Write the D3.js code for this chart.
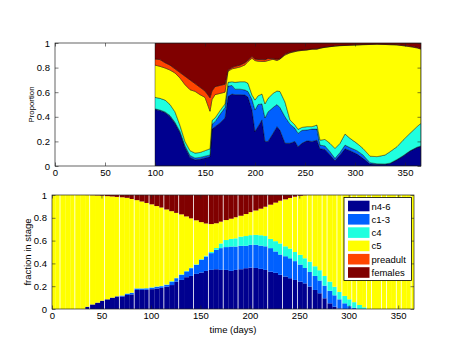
<!DOCTYPE html>
<html><head><meta charset="utf-8">
<script src="https://cdn.jsdelivr.net/npm/d3@7"></script>
<style>
body{margin:0;background:#fff;}
text{font-family:"Liberation Sans",Arial,Helvetica,sans-serif;}
</style>
</head><body>
<svg id="c" width="475" height="356"></svg>
<script>
const stages = ["n4-6","c1-3","c4","c5","preadult","females"];
const colors = ["#00008f","#0060ff","#20ffdf","#ffff00","#ff4500","#800000"];
const xTicks = [0,50,100,150,200,250,300,350];
const xTickLabels = ["0","50","100","150","200","250","300","350"];
const yTicks = [0,0.2,0.4,0.6,0.8,1];
const yTickLabels = ["0","0.2","0.4","0.6","0.8","1"];

// ---- top panel (observed proportions) ----
const topDays = [100,105,110,115,120,125,130,135,140,145,150,155,157,160,165,170,173,177,180,185,190,193,197,200,203,207,210,213,218,222,225,230,235,240,243,247,252,257,262,265,270,275,280,285,290,295,302,308,315,322,330,335,342,348,355,362,366];
const topN46 = [.46,.45,.435,.40,.345,.27,.15,.07,.05,.055,.065,.075,.30,.32,.35,.39,.565,.585,.58,.58,.577,.56,.455,.28,.32,.375,.20,.20,.265,.32,.29,.185,.185,.20,.157,.185,.205,.20,.21,.14,.135,.09,.044,.09,.14,.125,.097,.062,.016,.014,.014,.02,.05,.08,.12,.15,.16];
const topC13 = [.005,.005,.005,.01,.01,.01,.015,.015,.015,.015,.015,.015,.04,.04,.07,.085,.085,.07,.045,.045,.041,.045,.085,.175,.18,.13,.19,.24,.21,.18,.185,.215,.155,.106,.108,.105,.088,.10,.09,.03,.028,.026,.018,.02,.03,.025,.028,.028,.011,.004,.003,.003,.003,.003,.003,.003,.003];
const topC4 = [.093,.095,.096,.09,.085,.05,.035,.04,.04,.04,.045,.05,.03,.03,.03,.03,.03,.03,.055,.06,.067,.067,.037,.081,.07,.08,.115,.11,.115,.11,.13,.12,.034,.027,.033,.024,.027,.02,.033,.04,.053,.068,.081,.074,.09,.075,.059,.053,.053,.058,.072,.093,.104,.127,.143,.167,.184];
const topC5 = [.262,.26,.261,.28,.316,.385,.461,.495,.502,.47,.433,.305,.17,.19,.14,.095,.09,.105,.115,.12,.137,.178,.299,.321,.282,.265,.345,.307,.278,.247,.265,.382,.546,.597,.637,.626,.623,.63,.617,.747,.749,.786,.832,.794,.72,.757,.80,.843,.908,.914,.899,.87,.827,.768,.704,.64,.603];
const topPre = [.05,.055,.043,.04,.034,.045,.069,.08,.063,.06,.052,.11,.07,.065,.065,.065,.01,.01,.015,.015,.018,.01,.014,.013,.014,.015,.014,.018,.004,.011,.002,.008,.005,.005,.005,.003,.003,.002,.003,.003,.002,.002,.002,.002,.002,.002,.002,.002,.002,.002,.002,.003,.003,.004,.005,.005,.005];
const topFem = [.13,.135,.16,.18,.21,.24,.27,.30,.33,.36,.39,.445,.39,.355,.345,.335,.22,.20,.19,.18,.16,.14,.11,.13,.134,.135,.136,.125,.128,.132,.128,.09,.075,.065,.06,.057,.054,.048,.047,.04,.033,.028,.023,.02,.018,.016,.014,.012,.01,.008,.01,.011,.013,.018,.025,.035,.045];

// ---- bottom panel (model fraction in stage, 5-day bars) ----
const barDays = [1,6,11,16,21,26,31,36,41,46,51,56,61,66,71,76,81,86,91,96,101,106,111,116,121,126,131,136,141,146,151,156,161,166,171,176,181,186,191,196,201,206,211,216,221,226,231,236,241,246,251,256,261,266,271,276,281,286,291,296,301,306,311,316,321,326,331,336,341,346,351,356,361,366];
const barN46 = [0,0,0,0,0,0,0,.02,.04,.056,.073,.085,.10,.11,.11,.123,.128,.167,.167,.168,.174,.18,.185,.196,.21,.24,.255,.279,.29,.308,.32,.334,.343,.349,.343,.343,.334,.343,.349,.358,.363,.36,.352,.343,.327,.317,.30,.285,.27,.255,.24,.225,.197,.167,.138,.094,.05,.02,.005,0,0,0,0,0,0,0,0,0,0,0,0,0,0,0];
const barC13 = [0,0,0,0,0,0,0,0,0,0,0,0,0,.002,.008,.012,.014,.013,.013,.013,.013,.015,.015,.016,.03,.03,.045,.051,.068,.079,.111,.126,.147,.171,.191,.20,.214,.205,.205,.196,.20,.203,.204,.207,.207,.188,.178,.178,.175,.165,.15,.135,.128,.123,.112,.111,.11,.10,.08,.05,.025,.01,0,0,0,0,0,0,0,0,0,0,0,0];
const barC4 = [0,0,0,0,0,0,0,0,0,0,0,0,0,0,0,.001,.001,.001,.001,.002,.003,.003,.003,.003,.004,.004,.004,.005,.005,.005,.006,.008,.01,.015,.041,.062,.067,.072,.081,.086,.085,.087,.091,.09,.081,.09,.097,.087,.085,.08,.085,.085,.09,.085,.09,.085,.08,.075,.065,.065,.06,.05,.035,.015,0,0,0,0,0,0,0,0,0,0];
const barC5 = [1,1,1,1,1,1,1,.979,.958,.94,.921,.905,.887,.871,.862,.839,.822,.774,.762,.747,.728,.705,.687,.658,.614,.569,.526,.477,.432,.386,.325,.282,.245,.217,.191,.175,.177,.185,.183,.193,.202,.214,.233,.257,.30,.338,.375,.412,.444,.485,.518,.553,.585,.625,.66,.71,.76,.805,.85,.885,.915,.94,.965,.985,1,1,1,1,1,1,1,1,1,1];
const barPre = [0,0,0,0,0,0,0,0,0,0,0,0,0,0,0,0,0,0,0,0,0,0,0,0,0,0,0,0,0,0,0,0,0,0,0,0,0,0,0,0,0,0,0,0,0,0,0,0,0,0,0,0,0,0,0,0,0,0,0,0,0,0,0,0,0,0,0,0,0,0,0,0,0,0];
const barFem = [0,0,0,0,0,0,0,.001,.002,.004,.006,.01,.013,.017,.02,.025,.035,.045,.057,.07,.082,.097,.11,.127,.142,.157,.17,.188,.205,.222,.238,.25,.255,.248,.234,.22,.208,.195,.182,.167,.15,.136,.12,.103,.085,.067,.05,.038,.026,.015,.007,.002,0,0,0,0,0,0,0,0,0,0,0,0,0,0,0,0,0,0,0,0,0,0];
const barWidthDays = 5;

const svg = d3.select("#c");
const FS = 9.5;

function rows(days, arrs){
  return days.map((d,i)=>{const o={day:d,idx:i}; stages.forEach((s,j)=>o[s]=arrs[j][i]); return o;});
}
const stack = d3.stack().keys(stages);

function drawAxes(g, x, y){
  const [x0,x1] = x.range(), [y1,y0] = y.range();
  const ax = g.append("g").attr("transform",`translate(0,${y1})`)
    .call(d3.axisBottom(x).tickValues(xTicks).tickFormat((d,i)=>xTickLabels[i]).tickSizeInner(-3.5).tickSizeOuter(0).tickPadding(3));
  const axT = g.append("g").attr("transform",`translate(0,${y0})`)
    .call(d3.axisTop(x).tickValues(xTicks).tickFormat("").tickSizeInner(-3.5).tickSizeOuter(0));
  const ay = g.append("g").attr("transform",`translate(${x0},0)`)
    .call(d3.axisLeft(y).tickValues(yTicks).tickFormat((d,i)=>yTickLabels[i]).tickSizeInner(-3.5).tickSizeOuter(0).tickPadding(5));
  const ayR = g.append("g").attr("transform",`translate(${x1},0)`)
    .call(d3.axisRight(y).tickValues(yTicks).tickFormat("").tickSizeInner(-3.5).tickSizeOuter(0));
  [ax,axT,ay,ayR].forEach(a=>{
    a.select(".domain").remove();
    a.selectAll("line").attr("stroke","#222").attr("stroke-width",0.6);
    a.selectAll("text").attr("font-size",FS).attr("fill","#000").attr("font-family",'"Liberation Sans",Arial,sans-serif');
  });
  g.append("rect").attr("x",x0).attr("y",y0).attr("width",x1-x0).attr("height",y1-y0)
    .attr("fill","none").attr("stroke","#222").attr("stroke-width",0.7);
}

// ---------- TOP ----------
const xT = d3.scaleLinear().domain([0,366]).range([55,421]);
const yT = d3.scaleLinear().domain([0,1]).range([166,43]);
const gT = svg.append("g");
svg.append("clipPath").attr("id","clipT").append("rect")
  .attr("x",xT.range()[0]).attr("y",yT.range()[1]).attr("width",xT.range()[1]-xT.range()[0]).attr("height",yT.range()[0]-yT.range()[1]);
const topSeries = stack(rows(topDays,[topN46,topC13,topC4,topC5,topPre,topFem]));
const area = d3.area().x(d=>xT(d.data.day)).y0(d=>yT(d[0])).y1(d=>yT(Math.min(1,d[1])));
gT.append("g").attr("clip-path","url(#clipT)").selectAll("path").data(topSeries).join("path")
  .attr("d",area).attr("fill",(d,i)=>colors[i]).attr("stroke","#000").attr("stroke-width",0.45).attr("stroke-opacity",0.85);
drawAxes(gT,xT,yT);
gT.append("text").attr("transform",`translate(34,${(yT.range()[0]+yT.range()[1])/2}) rotate(-90)`)
  .attr("text-anchor","middle").attr("font-size",7.8).text("Proportion");

// ---------- BOTTOM ----------
const xB = d3.scaleLinear().domain([0,366]).range([52,414]);
const yB = d3.scaleLinear().domain([0,1]).range([309,195]);
const gB = svg.append("g");
svg.append("clipPath").attr("id","clipB").append("rect")
  .attr("x",xB.range()[0]).attr("y",yB.range()[1]).attr("width",xB.range()[1]-xB.range()[0]).attr("height",yB.range()[0]-yB.range()[1]);
const barSeries = stack(rows(barDays,[barN46,barC13,barC4,barC5,barPre,barFem]));
const gBars = gB.append("g").attr("clip-path","url(#clipB)");
// rendering seams: a light seam after every third bar, denser later in the year
const seam = i => (i < 48 ? i % 3 === 1 : i % 3 !== 2);
barSeries.forEach((s,i)=>{
  gBars.append("g").attr("fill",colors[i]).selectAll("rect").data(s.filter(d=>d[1]-d[0]>0)).join("rect")
    .attr("x",d=>xB(d.data.day-barWidthDays/2))
    .attr("width",d=>xB(d.data.day+barWidthDays/2)-xB(d.data.day-barWidthDays/2)-(seam(d.data.idx)?0.8:0)+ (seam(d.data.idx)?0:0.15))
    .attr("y",d=>yB(Math.min(1,d[1])))
    .attr("height",d=>yB(d[0])-yB(Math.min(1,d[1])));
});
drawAxes(gB,xB,yB);
gB.append("text").attr("transform",`translate(31,${(yB.range()[0]+yB.range()[1])/2}) rotate(-90)`)
  .attr("text-anchor","middle").attr("font-size",FS).text("fraction in stage");
gB.append("text").attr("x",(xB.range()[0]+xB.range()[1])/2).attr("y",333)
  .attr("text-anchor","middle").attr("font-size",FS).text("time (days)");

// legend
const lgW = 67.5, lgH = 83, rowH = 13.3;
const lgX = xB.range()[1]-2.5-lgW, lgY = yB.range()[1]+2.5;
const lg = gB.append("g").attr("transform",`translate(${lgX},${lgY})`);
lg.append("rect").attr("width",lgW).attr("height",lgH).attr("fill","#fff").attr("stroke","#000").attr("stroke-width",0.8);
stages.forEach((s,i)=>{
  const r = lg.append("g").attr("transform",`translate(0,${8.5+i*rowH})`);
  r.append("rect").attr("x",4).attr("y",-5.3).attr("width",21.5).attr("height",10.6).attr("fill",colors[i]);
  r.append("text").attr("x",27.5).attr("y",3.5).attr("font-size",FS).text(s);
});
</script>
</body></html>
